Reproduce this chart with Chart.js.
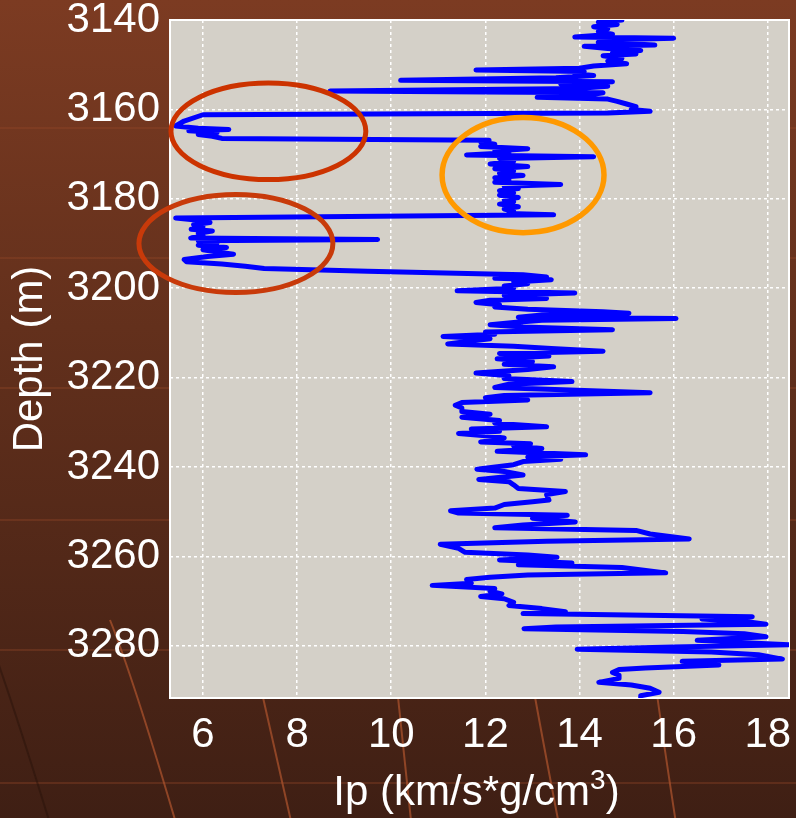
<!DOCTYPE html>
<html>
<head>
<meta charset="utf-8">
<script src="https://cdn.jsdelivr.net/npm/chart.js@4.4.1/dist/chart.umd.min.js"></script>
<style>
  html, body { margin: 0; padding: 0; background: #4a2417; }
  canvas { display: block; }
</style>
</head>
<body>
<canvas id="log" width="796" height="818"></canvas>
<script>
// impedance log (depth in m, Ip in km/s*g/cm3)
const depth = [
  3140.0, 3140.5, 3141.0, 3141.5, 3142.0, 3142.6, 3143.2, 3143.8, 3144.1, 3144.5,
  3145.0, 3145.6, 3145.9, 3146.4, 3146.8, 3147.3, 3147.6, 3148.0, 3148.6, 3149.2,
  3149.8, 3150.3, 3150.8, 3151.2, 3151.5, 3152.0, 3152.4, 3152.9, 3153.5, 3153.8,
  3154.3, 3154.8, 3155.3, 3155.9, 3156.3, 3156.8, 3157.3, 3157.7, 3158.2, 3158.8,
  3159.4, 3160.0, 3160.4, 3160.8, 3161.2, 3162.6, 3163.7, 3164.2, 3164.5, 3164.8,
  3165.2, 3165.6, 3166.0, 3166.5, 3166.9, 3167.3, 3167.8, 3168.3, 3168.8, 3169.3,
  3169.7, 3170.2, 3170.6, 3171.0, 3171.6, 3172.2, 3172.8, 3173.3, 3173.8, 3174.3,
  3174.8, 3175.3, 3175.8, 3176.3, 3176.8, 3177.2, 3177.7, 3178.2, 3178.7, 3179.2,
  3179.7, 3180.2, 3180.7, 3181.2, 3181.8, 3182.3, 3182.8, 3183.3, 3183.6, 3184.3,
  3184.8, 3185.3, 3185.8, 3186.3, 3186.8, 3187.2, 3187.7, 3188.3, 3188.8, 3189.1,
  3189.4, 3189.9, 3190.4, 3190.9, 3191.4, 3191.9, 3192.4, 3192.9, 3193.6, 3194.1,
  3194.6, 3195.1, 3195.6, 3196.2, 3197.0, 3197.5, 3197.8, 3198.1, 3198.6, 3199.0,
  3199.5, 3200.0, 3200.6, 3201.1, 3201.6, 3202.3, 3202.7, 3203.2, 3203.7, 3204.2,
  3204.7, 3205.3, 3205.6, 3206.0, 3206.5, 3206.8, 3207.2, 3207.7, 3208.2, 3208.7,
  3209.3, 3209.8, 3210.3, 3210.8, 3211.3, 3211.8, 3212.5, 3213.0, 3213.5, 3214.1,
  3214.6, 3215.2, 3215.8, 3216.4, 3217.0, 3217.6, 3218.2, 3219.0, 3219.6, 3220.2,
  3220.9, 3221.5, 3222.2, 3222.8, 3223.4, 3224.0, 3224.5, 3225.0, 3225.6, 3226.2,
  3226.8, 3227.6, 3228.2, 3228.9, 3229.6, 3230.2, 3231.0, 3231.5, 3232.0, 3232.5,
  3233.0, 3233.5, 3234.0, 3234.4, 3234.8, 3235.3, 3235.9, 3236.5, 3237.3, 3237.8,
  3238.3, 3238.8, 3239.5, 3240.5, 3241.0, 3241.8, 3242.8, 3243.3, 3244.0, 3244.8,
  3245.5, 3246.2, 3247.4, 3247.8, 3248.4, 3249.2, 3249.8, 3250.3, 3250.8, 3251.5,
  3252.3, 3253.0, 3253.6, 3254.2, 3255.0, 3256.1, 3256.6, 3257.3, 3258.2, 3259.1,
  3259.7, 3260.2, 3260.8, 3261.5, 3261.9, 3262.5, 3263.7, 3264.2, 3264.7, 3265.2,
  3266.0, 3266.5, 3267.2, 3267.8, 3268.4, 3269.0, 3269.5, 3270.3, 3271.0, 3271.7,
  3272.4, 3272.8, 3273.5, 3274.0, 3274.7, 3275.2, 3275.8, 3276.2, 3276.8, 3277.3,
  3278.0, 3278.8, 3279.3, 3279.8, 3280.3, 3280.8, 3281.4, 3282.0, 3283.0, 3283.5,
  3284.3, 3285.0, 3285.3, 3286.0, 3286.6, 3287.3, 3288.2, 3288.8, 3289.5, 3290.4,
  3291.2, 3292.2
];
const ip = [
  14.9, 14.4, 14.8, 14.3, 14.6, 14.4, 14.7, 13.9, 16.0, 14.5,
  14.4, 15.6, 14.1, 14.6, 15.3, 14.7, 15.2, 14.5, 14.9, 14.6,
  15.0, 14.3, 14.0, 11.8, 14.1, 13.9, 14.3, 13.5, 10.2, 14.7,
  13.6, 14.6, 14.0, 8.7, 14.5, 14.2, 13.1, 14.6, 14.8, 15.0,
  15.2, 15.1, 15.5, 14.6, 6.0, 5.6, 5.42, 5.9, 6.55, 5.7,
  6.3, 5.9, 6.2, 6.4, 12.08, 11.9, 12.2, 11.9, 12.9, 12.2,
  12.5, 11.6, 14.3, 12.3, 12.6, 12.1, 12.9, 12.2, 12.6, 12.3,
  12.8, 12.2, 12.5, 12.2, 13.6, 12.4, 12.7, 12.3, 12.6, 12.3,
  12.7, 12.4, 12.6, 12.3, 12.7, 12.4, 12.6, 12.5, 13.45, 5.42,
  5.9, 6.15, 5.8, 6.0, 5.75, 6.2, 5.9, 6.0, 5.74, 9.71,
  5.9, 6.3, 5.9, 6.5, 6.0, 6.3, 6.65, 6.1, 5.6, 5.65,
  6.4, 6.9, 7.3, 9.5, 12.8, 13.3, 12.2, 13.4, 12.6, 12.9,
  12.4, 12.6, 11.4, 13.9, 12.4, 13.3, 12.1, 11.8, 12.3, 12.2,
  12.9, 14.5, 15.05, 13.2, 12.7, 16.05, 13.2, 12.6, 12.1, 12.8,
  14.7, 12.0, 12.2, 11.1, 12.1, 11.7, 11.2, 12.6, 13.4, 14.5,
  12.3, 13.35, 12.25, 13.0, 12.4, 13.45, 12.9, 11.8, 12.5, 12.4,
  13.84, 12.5, 12.2, 13.8, 15.5, 12.4, 12.0, 12.9, 11.5, 11.36,
  11.5, 11.5, 12.1, 11.5, 12.3, 12.2, 13.3, 11.7, 12.3, 11.43,
  12.0, 12.4, 12.2, 11.9, 12.96, 12.6, 13.2, 12.25, 14.13, 12.9,
  13.6, 12.8, 12.6, 11.82, 12.4, 12.8, 11.86, 12.5, 12.6, 12.7,
  13.7, 13.3, 13.35, 13.0, 12.4, 12.2, 11.26, 11.43, 13.74, 13.0,
  13.91, 12.8, 12.2, 15.2, 15.5, 16.33, 13.3, 11.04, 11.43, 11.57,
  12.9, 13.52, 12.3, 13.84, 12.7, 14.9, 15.83, 12.9, 12.1, 11.6,
  11.7, 10.87, 12.2, 12.1, 12.35, 11.9, 12.4, 12.6, 12.5, 13.2,
  13.7, 12.8, 17.67, 16.6, 17.6, 17.96, 13.5, 12.82, 16.2, 17.5,
  17.96, 16.5, 17.4, 18.49, 16.0, 13.95, 16.8, 17.8, 18.31, 16.18,
  16.96, 15.4, 14.84, 14.7, 14.84, 14.84, 14.41, 15.1, 15.5, 15.69,
  15.3, 15.3
];

const xTicks = [6, 8, 10, 12, 14, 16, 18];
const yTicks = [3140, 3160, 3180, 3200, 3220, 3240, 3260, 3280];

// highlighted zones (centre Ip, centre depth, half-width in Ip, half-height in m)
const zoneIp = [7.39, 6.70, 12.8];
const zoneDepth = [3164.9, 3190.0, 3174.7];
const zoneHalfIp = [2.07, 2.06, 1.72];
const zoneHalfDepth = [10.8, 10.97, 12.88];
const zoneColor = ["#cc3300", "#c83a0a", "#ff9900"];

const FONT = "'Liberation Sans', Arial, sans-serif";

const slide = {
  id: "slide",
  beforeDraw(chart) {
    const { ctx, width, height, chartArea: a } = chart;
    ctx.save();
    const g = ctx.createLinearGradient(0, 0, 0, height);
    g.addColorStop(0, "#7c3b22");
    g.addColorStop(0.4, "#63301c");
    g.addColorStop(1, "#3f1f14");
    ctx.fillStyle = g;
    ctx.fillRect(0, 0, width, height);

    // faint template stripes and arcs
    ctx.strokeStyle = "rgba(150, 72, 40, 0.35)";
    ctx.lineWidth = 2;
    [128, 258, 388, 520, 650, 783].forEach((y) => {
      ctx.beginPath();
      ctx.moveTo(0, y);
      ctx.lineTo(width, y);
      ctx.stroke();
    });
    ctx.strokeStyle = "rgba(170, 82, 44, 0.75)";
    [[250, 640, 264, 700, 293, 830], [392, 640, 398, 700, 412, 830],
     [525, 640, 535, 700, 560, 830], [650, 640, 657, 700, 677, 830],
     [110, 620, 134, 680, 178, 830]].forEach((c) => {
      ctx.beginPath();
      ctx.moveTo(c[0], c[1]);
      ctx.quadraticCurveTo(c[2], c[3], c[4], c[5]);
      ctx.stroke();
    });
    ctx.strokeStyle = "rgba(40, 18, 10, 0.5)";
    ctx.beginPath();
    ctx.moveTo(-10, 640);
    ctx.quadraticCurveTo(12, 700, 52, 830);
    ctx.stroke();

    ctx.fillStyle = "#d4d0c8";
    ctx.fillRect(a.left, a.top, a.right - a.left, a.bottom - a.top);
    ctx.restore();
  },
  beforeDatasetsDraw(chart) {
    const { ctx, chartArea: a } = chart;
    ctx.save();
    ctx.strokeStyle = "#ffffff";
    ctx.lineWidth = 2;
    ctx.strokeRect(a.left, a.top, a.right - a.left, a.bottom - a.top);
    ctx.restore();
  },
  afterDatasetsDraw(chart) {
    const { ctx } = chart;
    const xs = chart.scales.x;
    const ys = chart.scales.y;
    ctx.save();
    zoneIp.forEach((v, i) => {
      const cx = xs.getPixelForValue(v);
      const cy = ys.getPixelForValue(zoneDepth[i]);
      const rx = Math.abs(xs.getPixelForValue(v + zoneHalfIp[i]) - cx);
      const ry = Math.abs(ys.getPixelForValue(zoneDepth[i] + zoneHalfDepth[i]) - cy);
      ctx.beginPath();
      ctx.ellipse(cx, cy, rx, ry, 0, 0, Math.PI * 2);
      ctx.strokeStyle = zoneColor[i];
      ctx.lineWidth = i === 2 ? 5.5 : 5;
      ctx.stroke();
    });

    // x axis title with a raised exponent
    const main = "Ip (km/s*g/cm";
    ctx.fillStyle = "#ffffff";
    ctx.textBaseline = "alphabetic";
    ctx.font = "42px " + FONT;
    const wMain = ctx.measureText(main).width;
    const wClose = ctx.measureText(")").width;
    ctx.font = "28px " + FONT;
    const wExp = ctx.measureText("3").width;
    const cx = (xs.left + xs.right) / 2 - 3;
    let x0 = cx - (wMain + wExp + wClose) / 2;
    const base = 805;
    ctx.font = "42px " + FONT;
    ctx.fillText(main, x0, base);
    ctx.font = "28px " + FONT;
    ctx.fillText("3", x0 + wMain, base - 16);
    ctx.font = "42px " + FONT;
    ctx.fillText(")", x0 + wMain + wExp, base);
    ctx.restore();
  },
};

new Chart(document.getElementById("log"), {
  type: "scatter",
  data: {
    datasets: [
      {
        data: depth.map((d, i) => ({ x: ip[i], y: d })),
        showLine: true,
        borderColor: "#0000ff",
        borderWidth: 5,
        borderJoinStyle: "round",
        borderCapStyle: "round",
        pointRadius: 0,
        tension: 0,
        clip: 0,
      },
    ],
  },
  options: {
    responsive: false,
    animation: false,
    layout: { padding: { top: 20, right: 7, bottom: 0, left: 0 } },
    plugins: { legend: { display: false }, tooltip: { enabled: false } },
    scales: {
      x: {
        type: "linear",
        min: 5.3,
        max: 18.45,
        afterBuildTicks: (s) => { s.ticks = xTicks.map((v) => ({ value: v })); },
        afterFit: (s) => {
          s.height = 120;
          s.paddingLeft = 0;
          s.paddingRight = 0;
        },
        ticks: {
          color: "#ffffff",
          font: { family: FONT, size: 42, lineHeight: 1 },
          padding: 16,
          maxRotation: 0,
          autoSkip: false,
          callback: (v) => String(v),
        },
        grid: { color: "#ffffff", lineWidth: 1.5, drawTicks: false },
        border: { display: false, dash: [3, 3] },
        title: { display: false },
      },
      y: {
        type: "linear",
        reverse: true,
        min: 3140,
        max: 3291.7,
        afterBuildTicks: (s) => { s.ticks = yTicks.map((v) => ({ value: v })); },
        afterFit: (s) => {
          s.width = 170;
          s.paddingTop = 0;
          s.paddingBottom = 0;
        },
        ticks: {
          color: "#ffffff",
          font: { family: FONT, size: 42, lineHeight: 1 },
          padding: 10,
          autoSkip: false,
          callback: (v) => String(v),
        },
        grid: { color: "#ffffff", lineWidth: 1.5, drawTicks: false },
        border: { display: false, dash: [3, 3] },
        title: {
          display: true,
          text: "Depth (m)",
          color: "#ffffff",
          font: { family: FONT, size: 42, lineHeight: 1.2 },
          padding: { top: 5, bottom: 0 },
        },
      },
    },
  },
  plugins: [slide],
});
</script>
</body>
</html>
